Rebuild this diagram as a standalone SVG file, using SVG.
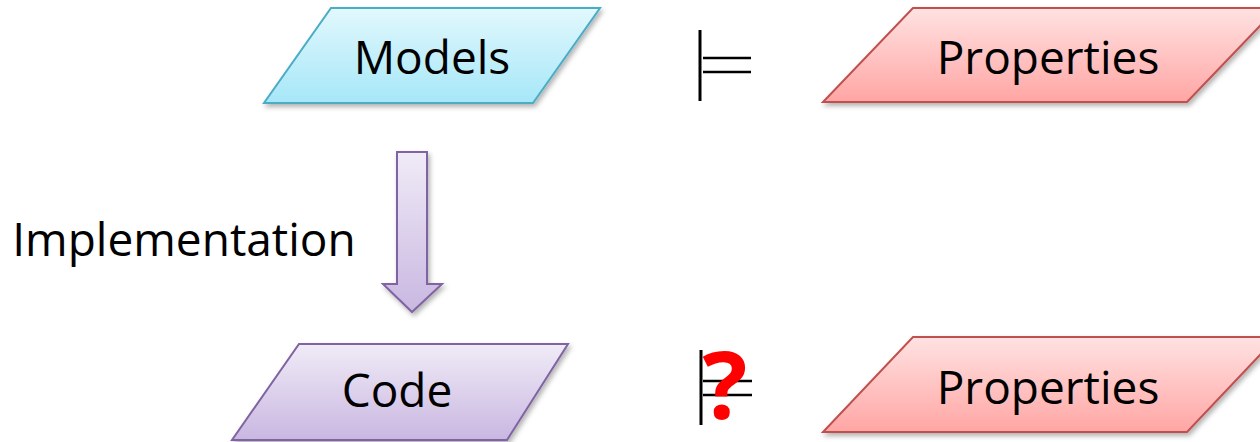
<svg xmlns="http://www.w3.org/2000/svg" width="1260" height="442" viewBox="0 0 1260 442">
<style>
.lbl{font-family:"Open Sans","Liberation Sans",sans-serif;font-size:46px;fill:#000;text-anchor:middle}
.sym{stroke:#000;fill:none}
</style>
<defs>
<linearGradient id="gBlue" x1="0" y1="0" x2="0" y2="1"><stop offset="0" stop-color="#e2f8fd"/><stop offset="1" stop-color="#a6e7f8"/></linearGradient>
<linearGradient id="gRed" x1="0" y1="0" x2="0" y2="1"><stop offset="0" stop-color="#ffe2e2"/><stop offset="1" stop-color="#ffa6a4"/></linearGradient>
<linearGradient id="gPurple" x1="0" y1="0" x2="0" y2="1"><stop offset="0" stop-color="#f0ebf7"/><stop offset="1" stop-color="#c9b7e1"/></linearGradient>
<filter id="sh" x="-10%" y="-10%" width="125%" height="130%"><feDropShadow dx="2" dy="3" stdDeviation="2.5" flood-color="#000" flood-opacity="0.3"/></filter>
</defs>
<g id="models">
<polygon points="331,8 600,8 533,103 264,103" fill="url(#gBlue)" stroke="#4bacc6" stroke-width="2" filter="url(#sh)"/>
<text class="lbl" x="432" y="74">Models</text>
</g>
<g id="properties-top">
<polygon points="913,8 1277,8 1187,102 823,102" fill="url(#gRed)" stroke="#c0504d" stroke-width="2" filter="url(#sh)"/>
<text class="lbl" x="1048" y="74">Properties</text>
</g>
<g id="code">
<polygon points="299,344 568,344 507,440 232,440" fill="url(#gPurple)" stroke="#8064a2" stroke-width="2" filter="url(#sh)"/>
<text class="lbl" x="397" y="407">Code</text>
</g>
<g id="properties-bottom">
<polygon points="913,337 1277,337 1187,432 823,432" fill="url(#gRed)" stroke="#c0504d" stroke-width="2" filter="url(#sh)"/>
<text class="lbl" x="1048" y="404">Properties</text>
</g>
<g id="implementation-label">
<text class="lbl" x="184" y="256">Implementation</text>
</g>
<g id="connectors">
<polygon points="397,152 427,152 427,284 442,284 412,312 383,284 397,284" fill="url(#gPurple)" stroke="#8064a2" stroke-width="2" filter="url(#sh)"/>
<g class="sym">
<line x1="700" y1="30" x2="700" y2="101" stroke-width="3"/>
<line x1="703" y1="58" x2="751" y2="58" stroke-width="2.5"/>
<line x1="703" y1="72" x2="751" y2="72" stroke-width="2.5"/>
<line x1="701" y1="350" x2="701" y2="425" stroke-width="3"/>
<line x1="703" y1="381" x2="752" y2="381" stroke-width="2.5"/>
<line x1="703" y1="395" x2="752" y2="395" stroke-width="2.5"/>
</g>
<text x="725" y="419" font-family="Open Sans,Liberation Sans,sans-serif" font-weight="700" font-size="94" fill="#ff0000" text-anchor="middle">?</text>
</g>
</svg>
